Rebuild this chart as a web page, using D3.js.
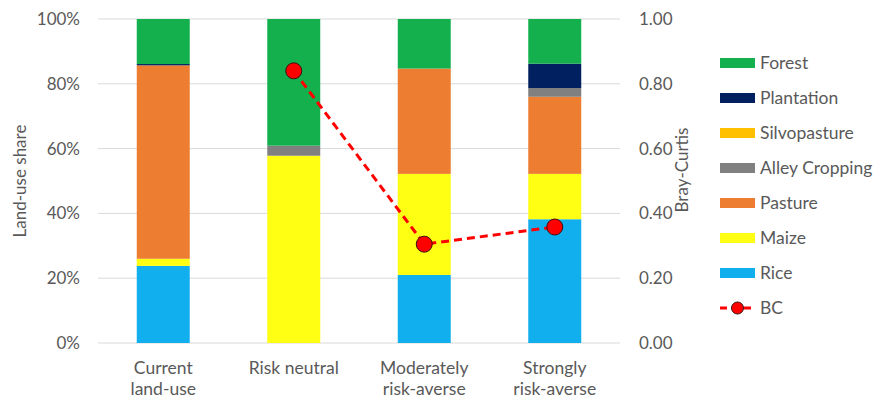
<!doctype html>
<html lang="en">
<head>
  <meta charset="UTF-8">
  <title>Land-use share</title>
  <script src="https://d3js.org/d3.v7.min.js" charset="utf-8"></script>
  <style>
    body { margin: 0; background: #fff; }
    text { font-family: Lato, "Open Sans", sans-serif; fill: #595959; }
  </style>
</head>
<body>
  <script>

    var categories = ["Current\nland-use", "Risk neutral", "Moderately\nrisk-averse", "Strongly\nrisk-averse"];

    // stacked from bottom to top
    var landUses = ["Rice", "Maize", "Pasture", "Alley Cropping", "Silvopasture", "Plantation", "Forest"];
    var colors = ["#12AFEF", "#FFFF14", "#ED7D31", "#808080", "#FFC000", "#002060", "#14B04E"];

    var rice       = [23.8, 0, 21.0, 38.2];
    var maize      = [2.2, 57.8, 31.2, 14.0];
    var pasture    = [59.7, 0, 32.5, 23.8];
    var alley      = [0, 3.1, 0, 2.7];
    var silvo      = [0, 0, 0, 0];
    var plantation = [0.4, 0, 0, 7.5];
    var forest     = [13.9, 39.1, 15.3, 13.8];

    var bc = [null, 0.84, 0.305, 0.358];

    var leftTicks = [0, 20, 40, 60, 80, 100];
    var rightTicks = [0, 0.2, 0.4, 0.6, 0.8, 1.0];

    var series = [rice, maize, pasture, alley, silvo, plantation, forest];

    var W = 877, H = 405;
    var plotL = 98, plotR = 620, plotT = 19, plotB = 343;
    var tickFont = "17px", catFont = "17.5px", legFont = "17.5px";

    var svg = d3.select("body").append("svg")
      .attr("width", W)
      .attr("height", H);

    var x = d3.scaleBand()
      .domain(categories)
      .range([plotL, plotR])
      .paddingInner(0.594)
      .paddingOuter(0.297);

    var y = d3.scaleLinear().domain([0, 100]).range([plotB, plotT]);
    var y2 = d3.scaleLinear().domain([0, 1]).range([plotB, plotT]);

    // gridlines
    svg.append("g").selectAll("line")
      .data(leftTicks)
      .enter().append("line")
      .attr("x1", plotL).attr("x2", plotR)
      .attr("y1", function(d) { return y(d); })
      .attr("y2", function(d) { return y(d); })
      .attr("stroke", "#D9D9D9")
      .attr("stroke-width", 1);

    // left axis
    var leftAxis = svg.append("g")
      .attr("transform", "translate(" + plotL + ",0)")
      .call(d3.axisLeft(y).tickValues(leftTicks).tickSize(0).tickPadding(18)
        .tickFormat(function(d) { return d + "%"; }));
    leftAxis.select(".domain").remove();
    leftAxis.selectAll("text").style("font-size", tickFont).style("fill", "#595959")
      .style("font-family", "Lato, sans-serif");

    // right axis
    var rightAxis = svg.append("g")
      .attr("transform", "translate(" + plotR + ",0)")
      .call(d3.axisRight(y2).tickValues(rightTicks).tickSize(0).tickPadding(19)
        .tickFormat(d3.format(".2f")));
    rightAxis.select(".domain").remove();
    rightAxis.selectAll("text").style("font-size", tickFont).style("fill", "#595959")
      .style("font-family", "Lato, sans-serif");

    // stacked bars
    var stackData = categories.map(function(c, i) {
      var row = { cat: c };
      landUses.forEach(function(k, j) { row[k] = series[j][i]; });
      return row;
    });
    var stacked = d3.stack().keys(landUses)(stackData);

    svg.append("g").selectAll("g")
      .data(stacked)
      .enter().append("g")
      .attr("fill", function(d, i) { return colors[i]; })
      .selectAll("rect")
      .data(function(d) { return d; })
      .enter().append("rect")
      .attr("x", function(d) { return x(d.data.cat); })
      .attr("width", x.bandwidth())
      .attr("y", function(d) { return y(d[1]); })
      .attr("height", function(d) { return y(d[0]) - y(d[1]); });

    // category labels
    var catLabels = svg.append("g").selectAll("text")
      .data(categories)
      .enter().append("text")
      .attr("text-anchor", "middle")
      .attr("x", function(d) { return x(d) + x.bandwidth() / 2; })
      .attr("y", 374)
      .style("font-size", catFont);
    catLabels.selectAll("tspan")
      .data(function(d) { return d.split("\n"); })
      .enter().append("tspan")
      .attr("x", function() { return this.parentNode.getAttribute("x"); })
      .attr("dy", function(d, i) { return i === 0 ? 0 : 21; })
      .text(function(d) { return d; });

    // BC line
    var bcPts = categories.map(function(c, i) { return { cat: c, v: bc[i] }; })
      .filter(function(d) { return d.v !== null; });

    var line = d3.line()
      .x(function(d) { return x(d.cat) + x.bandwidth() / 2; })
      .y(function(d) { return y2(d.v); });

    svg.append("path")
      .datum(bcPts)
      .attr("d", line)
      .attr("fill", "none")
      .attr("stroke", "#FF0000")
      .attr("stroke-width", 3)
      .attr("stroke-dasharray", "8,5");

    svg.append("g").selectAll("circle")
      .data(bcPts)
      .enter().append("circle")
      .attr("cx", function(d) { return x(d.cat) + x.bandwidth() / 2; })
      .attr("cy", function(d) { return y2(d.v); })
      .attr("r", 8)
      .attr("fill", "#FF0000")
      .attr("stroke", "#3a1010")
      .attr("stroke-width", 1);

    // axis titles
    svg.append("text")
      .attr("transform", "translate(26,181) rotate(-90)")
      .attr("text-anchor", "middle")
      .style("font-size", tickFont)
      .text("Land-use share");

    svg.append("text")
      .attr("transform", "translate(688,170) rotate(-90)")
      .attr("text-anchor", "middle")
      .style("font-size", tickFont)
      .text("Bray-Curtis");

    // legend
    var legendItems = landUses.slice().reverse().map(function(k) {
      return { name: k, color: colors[landUses.indexOf(k)] };
    });
    var lg = svg.append("g");
    legendItems.forEach(function(d, i) {
      var cy = 63 + i * 35;
      lg.append("rect")
        .attr("x", 720).attr("y", cy - 5)
        .attr("width", 35).attr("height", 10)
        .attr("fill", d.color);
      lg.append("text")
        .attr("x", 760).attr("y", cy)
        .attr("dy", "0.35em")
        .style("font-size", legFont)
        .text(d.name);
    });
    var bcY = 63 + legendItems.length * 35;
    lg.append("line")
      .attr("x1", 720).attr("x2", 755)
      .attr("y1", bcY).attr("y2", bcY)
      .attr("stroke", "#FF0000")
      .attr("stroke-width", 3)
      .attr("stroke-dasharray", "7,5");
    lg.append("circle")
      .attr("cx", 737.5).attr("cy", bcY).attr("r", 6)
      .attr("fill", "#FF0000")
      .attr("stroke", "#3a1010")
      .attr("stroke-width", 1);
    lg.append("text")
      .attr("x", 760).attr("y", bcY)
      .attr("dy", "0.35em")
      .style("font-size", legFont)
      .text("BC");

  </script>
</body>
</html>
